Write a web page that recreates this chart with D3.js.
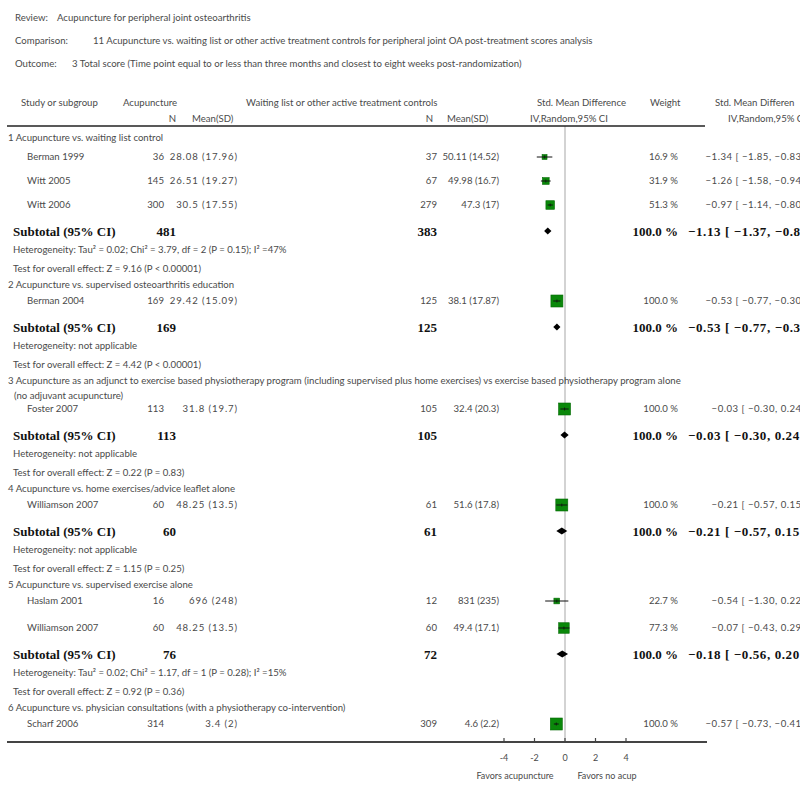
<!DOCTYPE html>
<html><head><meta charset="utf-8">
<script src="https://cdn.jsdelivr.net/npm/d3@7"></script>
<style>
html,body{margin:0;padding:0;background:#fff;overflow:hidden}
svg{display:block}
.r{font-family:Lato,"Open Sans",sans-serif;font-size:9.6px;fill:#4a4a4a}
.b{font-family:"Liberation Serif","Times New Roman",serif;font-weight:bold;font-size:13px;fill:#111}
</style></head><body>
<svg id="c" width="800" height="786"></svg>
<script>
// ---------- data ----------
const titleKeys = ["Review:", "Comparison:", "Outcome:"];
const titleTexts = [
  "Acupuncture for peripheral joint osteoarthritis",
  "11 Acupuncture vs. waiting list or other active treatment controls for peripheral joint OA post-treatment scores analysis",
  "3 Total score (Time point equal to or less than three months and closest to eight weeks post-randomization)"
];
const groupLabels = [
  "1 Acupuncture vs. waiting list control",
  "2 Acupuncture vs. supervised osteoarthritis education",
  "3 Acupuncture as an adjunct to exercise based physiotherapy program (including supervised plus home exercises) vs exercise based physiotherapy program alone",
  "4 Acupuncture vs. home exercises/advice leaflet alone",
  "5 Acupuncture vs. supervised exercise alone",
  "6 Acupuncture vs. physician consultations (with a physiotherapy co-intervention)"
];
const groupContinuation = ["", "", "(no adjuvant acupuncture)", "", "", ""];
const studyNames = ["Berman 1999","Witt 2005","Witt 2006","Berman 2004","Foster 2007","Williamson 2007","Haslam 2001","Williamson 2007","Scharf 2006"];
const studyGroup = [0,0,0,1,2,3,4,4,5];
const acupN = [36,145,300,169,113,60,16,60,314];
const acupMeanSD = ["28.08 (17.96)","26.51 (19.27)","30.5 (17.55)","29.42 (15.09)","31.8 (19.7)","48.25 (13.5)","696 (248)","48.25 (13.5)","3.4 (2)"];
const ctrlN = [37,67,279,125,105,61,12,60,309];
const ctrlMeanSD = ["50.11 (14.52)","49.98 (16.7)","47.3 (17)","38.1 (17.87)","32.4 (20.3)","51.6 (17.8)","831 (235)","49.4 (17.1)","4.6 (2.2)"];
const studyWeight = [16.9,31.9,51.3,100,100,100,22.7,77.3,100];
const studySMD = [-1.34,-1.26,-0.97,-0.53,-0.03,-0.21,-0.54,-0.07,-0.57];
const studyLo  = [-1.85,-1.58,-1.14,-0.77,-0.30,-0.57,-1.30,-0.43,-0.73];
const studyHi  = [-0.83,-0.94,-0.80,-0.30,0.24,0.15,0.22,0.29,-0.41];
const subAcupN = [481,169,113,60,76];
const subCtrlN = [383,125,105,61,72];
const subWeight = [100,100,100,100,100];
const subSMD = [-1.13,-0.53,-0.03,-0.21,-0.18];
const subLo  = [-1.37,-0.77,-0.30,-0.57,-0.56];
const subHi  = [-0.89,-0.30,0.24,0.15,0.20];
const hetTexts = [
  "Heterogeneity: Tau\u00b2 = 0.02; Chi\u00b2 = 3.79, df = 2 (P = 0.15); I\u00b2 =47%",
  "Heterogeneity: not applicable",
  "Heterogeneity: not applicable",
  "Heterogeneity: not applicable",
  "Heterogeneity: Tau\u00b2 = 0.02; Chi\u00b2 = 1.17, df = 1 (P = 0.28); I\u00b2 =15%"
];
const testTexts = [
  "Test for overall effect: Z = 9.16 (P < 0.00001)",
  "Test for overall effect: Z = 4.42 (P < 0.00001)",
  "Test for overall effect: Z = 0.22 (P = 0.83)",
  "Test for overall effect: Z = 1.15 (P = 0.25)",
  "Test for overall effect: Z = 0.92 (P = 0.36)"
];
const axisTicks = [-4,-2,0,2,4];
const favorLabels = ["Favors acupuncture","Favors no acup"];

// ---------- layout ----------
const svg = d3.select("#c");
const x = d3.scaleLinear().domain([-4,4]).range([504,626]);
const side = d3.scaleSqrt().domain([0,100]).range([0,12]);
const f2 = d3.format(".2f"), f1 = d3.format(".1f");
const ciText = (m,l,h) => `${f2(m)} [ ${f2(l)}, ${f2(h)} ]`;

// build row sequence
const rows = [];
let y = 138;
let prev = null;
const gaps = {
  "group>study":16, "group>cont":15, "cont>study":13, "study>study":24,
  "study>sub":26, "sub>het":19, "het>test":19, "test>group":16
};
for (let g = 0; g < groupLabels.length; g++) {
  const push = (type, obj) => {
    if (prev) {
      let k = prev + ">" + type;
      let gap = gaps[k];
      if (g === 0 && k === "group>study") gap = 19;
      if (k === "study>study" && studyGroup[obj.i] === 4) gap = 27;
      y += gap;
    }
    rows.push(Object.assign({type, y}, obj));
    prev = type;
  };
  push("group", {g});
  if (groupContinuation[g]) push("cont", {g});
  studyNames.forEach((n,i) => { if (studyGroup[i] === g) push("study", {i}); });
  if (g < subSMD.length) {
    push("sub", {g});
    push("het", {g});
    push("test", {g});
  }
}

// titles
const tY = [18, 41, 64];
const tX = [57, 93, 72];
titleKeys.forEach((k,i) => {
  svg.append("text").attr("class","r").attr("x",15).attr("y",tY[i]).attr("dy","0.35em").text(k);
  svg.append("text").attr("class","r").attr("x",tX[i]).attr("y",tY[i]).attr("dy","0.35em").text(titleTexts[i]);
});

// headers
const h1 = 103, h2 = 119;
const hdr = (t, xx, yy, anchor) => svg.append("text").attr("class","r").attr("x",xx).attr("y",yy)
  .attr("dy","0.35em").attr("text-anchor",anchor||"start").text(t);
hdr("Study or subgroup", 21, h1);
hdr("Acupuncture", 123, h1);
hdr("Waiting list or other active treatment controls", 246, h1);
hdr("Std. Mean Difference", 537, h1);
hdr("Weight", 650, h1);
hdr("Std. Mean Differen", 715, h1);
hdr("N", 176, h2, "end");
hdr("Mean(SD)", 192, h2);
hdr("N", 433, h2, "end");
hdr("Mean(SD)", 447, h2);
hdr("IV,Random,95% CI", 530, h2);
hdr("IV,Random,95% CI", 728, h2);

const lineTop = 126, axisY = 742;
// zero line
svg.append("line").attr("x1",x(0)).attr("x2",x(0)).attr("y1",lineTop).attr("y2",axisY)
  .attr("stroke","#c4c4c4").attr("stroke-width",1.5);
// header rule
svg.append("line").attr("x1",7).attr("x2",705).attr("y1",lineTop).attr("y2",lineTop)
  .attr("stroke","#222").attr("stroke-width",1.5);

// rows
rows.forEach(r => {
  const t = (txt, xx, cls, anchor) => svg.append("text").attr("class",cls||"r").attr("x",xx).attr("y",r.y)
      .attr("dy","0.35em").attr("text-anchor",anchor||"start").text(txt);
  if (r.type === "group") t(groupLabels[r.g], 8);
  else if (r.type === "cont") t(groupContinuation[r.g], 14);
  else if (r.type === "het") t(hetTexts[r.g], 13);
  else if (r.type === "test") t(testTexts[r.g], 13);
  else if (r.type === "study") {
    const i = r.i;
    t(studyNames[i], 27);
    t(acupN[i], 164, "r", "end");
    t(acupMeanSD[i], 238, "r", "end").style("letter-spacing","0.9px");
    t(ctrlN[i], 437, "r", "end");
    t(ctrlMeanSD[i], 499, "r", "end");
    t(f1(studyWeight[i]) + " %", 678, "r", "end");
    t(ciText(studySMD[i], studyLo[i], studyHi[i]), 808, "r", "end").style("letter-spacing","0.5px");
    const s = side(studyWeight[i]);
    svg.append("rect").attr("x", x(studySMD[i]) - s/2).attr("y", r.y - s/2)
      .attr("width", s).attr("height", s).attr("fill","#0a880a").attr("stroke","#066a06").attr("stroke-width",0.6);
    svg.append("line").attr("x1", x(studyLo[i])).attr("x2", x(studyHi[i])).attr("y1", r.y).attr("y2", r.y)
      .attr("stroke","#111").attr("stroke-width",1);
    svg.append("line").attr("x1", x(studySMD[i])).attr("x2", x(studySMD[i])).attr("y1", r.y-1.5).attr("y2", r.y+1.5)
      .attr("stroke","#111").attr("stroke-width",0.8);
  }
  else if (r.type === "sub") {
    const g = r.g;
    svg.append("text").attr("class","b").attr("x",13).attr("y",r.y).attr("dy","0.35em").text("Subtotal (95% CI)");
    t(subAcupN[g], 176, "b", "end");
    t(subCtrlN[g], 437, "b", "end");
    t(f1(subWeight[g]) + " %", 678, "b", "end");
    t(ciText(subSMD[g], subLo[g], subHi[g]), 688, "b", "start").style("letter-spacing","0.6px");
    const h = 3.5;
    const pts = [[x(subLo[g]), r.y],[x(subSMD[g]), r.y-h],[x(subHi[g]), r.y],[x(subSMD[g]), r.y+h]];
    svg.append("path").attr("d", d3.line()(pts) + "Z").attr("fill","#000");
  }
});

// bottom axis
svg.append("line").attr("x1",7).attr("x2",707).attr("y1",axisY).attr("y2",axisY)
  .attr("stroke","#444").attr("stroke-width",2);
const ax = svg.append("g");
axisTicks.forEach(v => {
  ax.append("line").attr("x1",x(v)).attr("x2",x(v)).attr("y1",axisY).attr("y2",axisY-4)
    .attr("stroke","#444").attr("stroke-width",1.2);
  ax.append("text").attr("class","r").attr("x",x(v)).attr("y",758).attr("dy","0.35em")
    .attr("text-anchor","middle").style("font-size","9px").text(v);
});
svg.append("text").attr("class","r").attr("x",515).attr("y",776).attr("dy","0.35em")
  .attr("text-anchor","middle").style("font-size","9px").text(favorLabels[0]);
svg.append("text").attr("class","r").attr("x",607).attr("y",776).attr("dy","0.35em")
  .attr("text-anchor","middle").style("font-size","9px").text(favorLabels[1]);
</script>
</body></html>
